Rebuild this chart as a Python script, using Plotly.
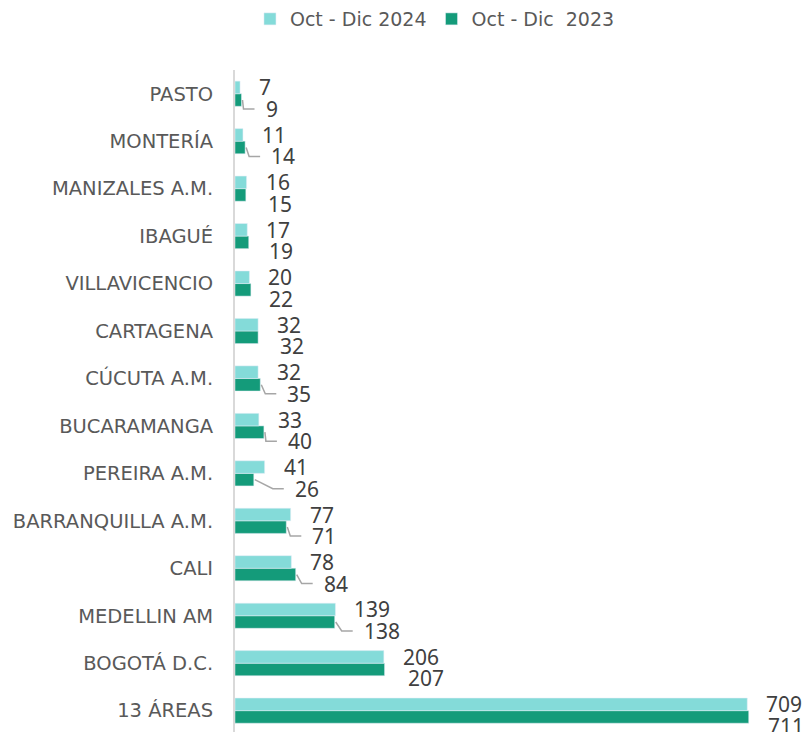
import plotly.graph_objects as go

categories = ["13 ÁREAS", "BOGOTÁ D.C.", "MEDELLIN AM", "CALI", "BARRANQUILLA A.M.",
              "PEREIRA A.M.", "BUCARAMANGA", "CÚCUTA A.M.", "CARTAGENA", "VILLAVICENCIO",
              "IBAGUÉ", "MANIZALES A.M.", "MONTERÍA", "PASTO"]
values_2024 = [709, 206, 139, 78, 77, 41, 33, 32, 32, 20, 17, 16, 11, 7]
values_2023 = [711, 207, 138, 84, 71, 26, 40, 35, 32, 22, 19, 15, 14, 9]
name_2024 = "Oct - Dic 2024"
name_2023 = "Oct - Dic\u00a0 2023"

# label layout tweaks (pixel gap between bar end and 2023 label)
gap_2023 = [17, 21, 27, 26, 24, 39, 22, 25, 20, 16, 18, 20, 24, 22]

C_LIGHT = "#84DBD9"
C_DARK = "#149B7A"
FONT = "Noto Sans"
FONT_W = "DejaVu Sans"
idx = list(range(len(categories)))

BARGAP = 0.47
fig = go.Figure()
fig.add_trace(go.Bar(y=idx, x=values_2023, orientation="h", name=name_2023,
                     marker_color=C_DARK, legendrank=2))
fig.add_trace(go.Bar(y=idx, x=values_2024, orientation="h", name=name_2024,
                     marker_color=C_LIGHT, legendrank=1))

annotations = []
shapes = []
bw = (1 - BARGAP) / 2
for i in idx:
    annotations.append(dict(x=values_2024[i], y=i + bw / 2, text=str(values_2024[i]),
                            xanchor="left", yanchor="middle", xshift=17, yshift=0,
                            showarrow=False, font=dict(family=FONT, size=21, color="#404040")))
    g = gap_2023[i]
    annotations.append(dict(x=values_2023[i], y=i - bw / 2, text=str(values_2023[i]),
                            xanchor="left", yanchor="middle", xshift=g, yshift=-9,
                            showarrow=False, font=dict(family=FONT, size=21, color="#404040")))
    if g > 21:
        xe = max(g - 20, 2)
        shapes.append(dict(type="path", xref="x", yref="y", xsizemode="pixel", ysizemode="pixel",
                           xanchor=values_2023[i], yanchor=i - bw / 2,
                           path=f"M1,0 L{xe},-9 L{g - 9},-9",
                           line=dict(color="#A6A6A6", width=1.5)))

fig.update_layout(
    width=804, height=732,
    margin=dict(l=235, r=0, t=70, b=0),
    paper_bgcolor="white", plot_bgcolor="white",
    barmode="group", bargap=BARGAP, bargroupgap=0,
    font=dict(family=FONT, color="#595959"),
    showlegend=True,
    legend=dict(orientation="h", xref="container", yref="container", x=0.541, y=0.974,
                xanchor="center", yanchor="middle", font=dict(family=FONT_W, size=19, color="#595959"),
                itemwidth=30, traceorder="normal"),
    annotations=annotations,
    shapes=shapes,
    xaxis=dict(range=[0, 787.5], visible=False, showgrid=False, zeroline=False),
    yaxis=dict(range=[-0.45, 13.5], tickvals=idx, ticktext=categories, showgrid=False,
               zeroline=False, showline=True, linecolor="#D9D9D9", linewidth=2,
               ticks="", ticklabelstandoff=16,
               tickfont=dict(family=FONT_W, size=19.5, color="#595959")),
)

fig.write_html("out.html")
